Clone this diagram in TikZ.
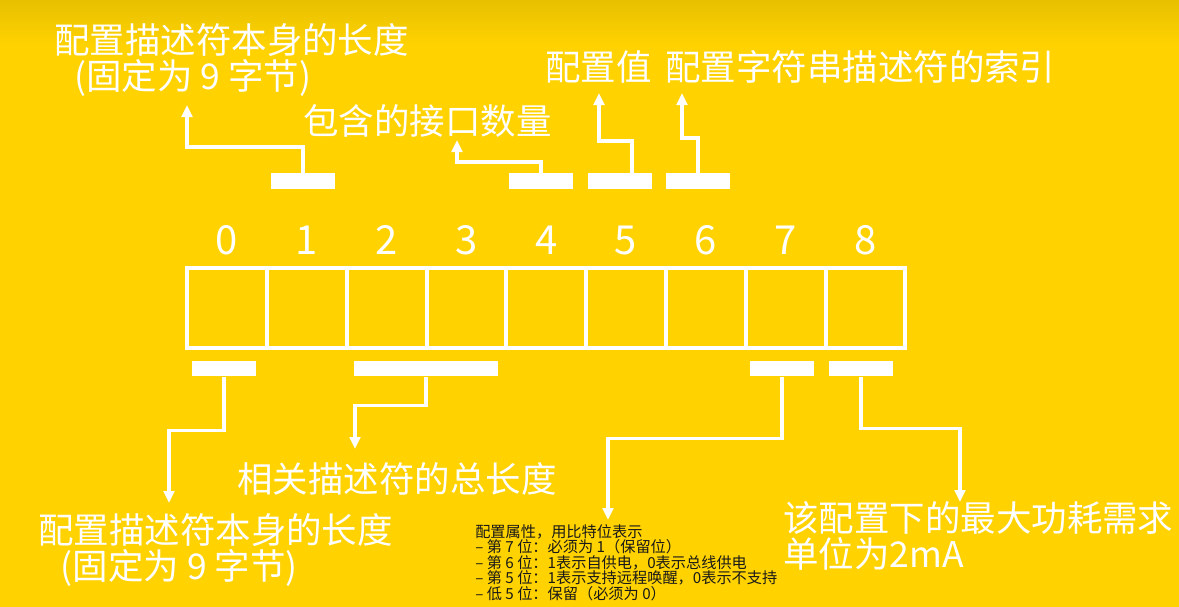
\documentclass[tikz,border=0pt]{standalone}
\usepackage{fontspec}
\setmainfont{Noto Sans CJK SC}
\usetikzlibrary{arrows.meta, positioning}
\definecolor{bgyellow}{RGB}{255,210,0}
\definecolor{bgtop}{RGB}{231,192,0}

\begin{document}
\begin{tikzpicture}[x=0.75pt,y=-0.75pt,
  cell/.style={draw=white,line width=3pt,minimum width=59.85pt,minimum height=60pt,inner sep=0pt},
  bar/.style={fill=white,minimum width=48pt,minimum height=11.6pt,inner sep=0pt},
  link/.style={white,line width=2.3pt,-{Triangle[length=9pt,width=8pt]}},
  lbl/.style={white,inner sep=0pt,anchor=base west,align=left,font=\fontsize{26.6pt}{27pt}\selectfont},
  note/.style={black!90,inner sep=0pt,anchor=base west,align=left,font=\fontsize{11.4pt}{11.6pt}\selectfont},
  digit/.style={white,inner sep=0pt,anchor=base,font=\fontsize{30pt}{30pt}\selectfont}]
  \useasboundingbox (0,0) rectangle (1179,607);
  \fill[bgyellow] (0,0) rectangle (1179,607);
  \shade[top color=bgtop,bottom color=bgyellow] (0,0) rectangle (1179,45);
  % the 9 bytes of the descriptor
  \foreach \i in {0,...,8}{
    \node[cell] (c\i) at (227+79.8*\i,308) {};
    \node[digit] (d\i) at (227+79.8*\i,254) {\i};
  }
  % field markers
  \node[bar] (b1) at (303,181) {};
  \node[bar] (b4) at (541,181) {};
  \node[bar] (b5) at (620,181) {};
  \node[bar] (b6) at (698,181) {};
  \node[bar] (b0) at (224,368.5) {};
  \node[bar,minimum width=108pt] (b23) at (426,368.5) {};
  \node[bar] (b7) at (782,368.5) {};
  \node[bar] (b8) at (861,368.5) {};
  % labels (multi-line ones sit on the baseline of their last line)
  \node[lbl] (l1) at (54,89) {配置描述符本身的长度\\\hspace*{15pt}(固定为 9 字节)};
  \node[lbl] (l4) at (303,134) {包含的接口数量};
  \node[lbl] (l5) at (545,80) {配置值};
  \node[lbl] (l6) at (665,80) {配置字符串描述符的索引};
  \node[lbl] (l0) at (38,579) {配置描述符本身的长度\\\hspace*{17pt}(固定为 9 字节)};
  \node[lbl] (l23) at (237,492) {相关描述符的总长度};
  \node[note] (l7) at (475,599) {配置属性，用比特位表示\\
    – 第 7 位：必须为 1（保留位）\\
    – 第 6 位：1表示自供电，0表示总线供电\\
    – 第 5 位：1表示支持远程唤醒，0表示不支持\\
    – 低 5 位：保留（必须为 0）};
  \node[lbl] (l8) at (783,567) {该配置下的最大功耗需求\\单位为2mA};
  % arrow tips
  \coordinate (t1) at (187,105);
  \coordinate (t4) at (457,140);
  \coordinate (t5) at (599,93);
  \coordinate (t6) at (682,93);
  \coordinate (t0) at (169,503);
  \coordinate (t23) at (355,449);
  \coordinate (t7) at (608,520);
  \coordinate (t8) at (960,502);
  \draw[link] (b1.north) -- ++(0,-26) -| (t1);
  \draw[link] (b4.north) -- ++(0,-11) -| (t4);
  \draw[link] ([xshift=9pt]b5.north) -- ++(0,-32) -| (t5);
  \draw[link] (b6.north) -- ++(0,-35) -| (t6);
  \draw[link] (b0.south) -- ++(0,54) -| (t0);
  \draw[link] (b23.south) -- ++(0,29) -| (t23);
  \draw[link] (b7.south) -- ++(0,62) -| (t7);
  \draw[link] (b8.south) -- ++(0,52) -| (t8);
\end{tikzpicture}
\end{document}
